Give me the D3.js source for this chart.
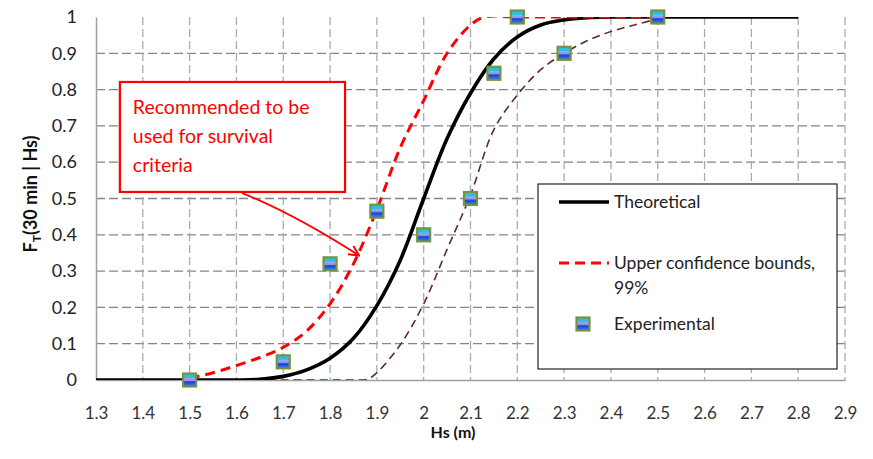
<!DOCTYPE html>
<html><head><meta charset="utf-8">
<script src="https://cdn.jsdelivr.net/npm/d3@7"></script>
<style>
html,body{margin:0;padding:0;background:#fff;}
svg{display:block;font-family:Lato,"Noto Sans",sans-serif;}
</style></head>
<body><svg id="chart" width="873" height="459"></svg>
<script>
// ---- data ----
const xTicks = [1.3,1.4,1.5,1.6,1.7,1.8,1.9,2.0,2.1,2.2,2.3,2.4,2.5,2.6,2.7,2.8,2.9];
const xTickLabels = ["1.3","1.4","1.5","1.6","1.7","1.8","1.9","2","2.1","2.2","2.3","2.4","2.5","2.6","2.7","2.8","2.9"];
const yTicks = [0,0.1,0.2,0.3,0.4,0.5,0.6,0.7,0.8,0.9,1];
const yTickLabels = ["0","0.1","0.2","0.3","0.4","0.5","0.6","0.7","0.8","0.9","1"];

const theoX = [1.3,1.5,1.6,1.65,1.7,1.75,1.8,1.85,1.9,1.95,2.0,2.05,2.1,2.15,2.2,2.25,2.3,2.35,2.4,2.5,2.8];
const theoY = [0,0,0,0.002,0.01,0.028,0.06,0.115,0.205,0.33,0.5,0.665,0.79,0.885,0.945,0.978,0.992,0.998,1,1,1];

const upperX = [1.5,1.55,1.6,1.65,1.7,1.75,1.8,1.85,1.9,1.95,2.0,2.05,2.1,2.13,2.2,2.5];
const upperY = [0.005,0.02,0.04,0.062,0.09,0.135,0.21,0.32,0.47,0.64,0.77,0.9,0.978,1,1,1];

const lowerX = [1.5,1.6,1.7,1.8,1.85,1.88,1.9,1.95,2.0,2.05,2.1,2.15,2.2,2.25,2.3,2.35,2.4,2.45,2.5];
const lowerY = [0,0,0,0,0,0.002,0.02,0.097,0.21,0.36,0.51,0.69,0.785,0.855,0.9,0.935,0.96,0.978,0.995];

const expX = [1.5,1.7,1.8,1.9,2.0,2.1,2.15,2.2,2.3,2.5];
const expY = [0,0.05,0.32,0.465,0.4,0.5,0.845,1.0,0.9,1.0];

const seriesNames = ["Theoretical","Upper confidence bounds,","99%","Experimental"];
const annotationLines = ["Recommended to be","used for survival","criteria"];

// ---- layout ----
const svg = d3.select("#chart");
const x = d3.scaleLinear().domain([1.3,2.9]).range([96,845]);
const y = d3.scaleLinear().domain([0,1]).range([380,17]);

const defs = svg.append("defs");
defs.append("clipPath").attr("id","plotclip").append("rect")
  .attr("x",x(1.3)).attr("y",y(1)).attr("width",x(2.9)-x(1.3)).attr("height",y(0)-y(1));
const grad = defs.append("linearGradient").attr("id","mk").attr("x1",0).attr("y1",0).attr("x2",0).attr("y2",1);
[[0,"#1cc6de"],[0.3,"#2fbce6"],[0.36,"#9ea6f0"],[0.55,"#8a92ea"],[0.6,"#3558e4"],[0.72,"#1e3ec6"],[0.8,"#2b6cf2"],[1,"#2360e6"]]
  .forEach(([o,c])=>grad.append("stop").attr("offset",o).attr("stop-color",c));
defs.append("marker").attr("id","arrowhead").attr("viewBox","0 0 12 12").attr("refX",11).attr("refY",6)
  .attr("markerWidth",12).attr("markerHeight",12).attr("markerUnits","userSpaceOnUse").attr("orient","auto")
  .append("path").attr("d","M1,1 L11,6 L1,11").attr("fill","none").attr("stroke","#ff0000").attr("stroke-width",2);

// gridlines
const grid = svg.append("g");
grid.selectAll("line.h").data(yTicks.filter(v=>v>0 && v<1)).join("line")
  .attr("x1",x(1.3)).attr("x2",x(2.9)).attr("y1",d=>y(d)).attr("y2",d=>y(d))
  .attr("stroke","#858585").attr("stroke-width",1.3).attr("stroke-dasharray","9,4");
grid.selectAll("line.v").data(xTicks.filter(v=>v>1.3)).join("line")
  .attr("x1",d=>x(d)).attr("x2",d=>x(d)).attr("y1",y(1)).attr("y2",y(0))
  .attr("stroke","#ababab").attr("stroke-width",1.3).attr("stroke-dasharray","8,4");

// axes
const xAxis = d3.axisBottom(x).tickValues(xTicks).tickFormat((d,i)=>xTickLabels[i]).tickSize(0).tickPadding(27);
const gx = svg.append("g").attr("transform",`translate(0,${y(0)})`).call(xAxis);
gx.select(".domain").attr("stroke","#a0a0a0").attr("stroke-width",1.5);
gx.selectAll("text").attr("font-size",17).attr("fill","#333").attr("font-family","Lato");

const yAxis = d3.axisLeft(y).tickValues(yTicks).tickFormat((d,i)=>yTickLabels[i]).tickSize(0).tickPadding(19);
const gy = svg.append("g").attr("transform",`translate(${x(1.3)},0)`).call(yAxis);
gy.select(".domain").attr("stroke","#a0a0a0").attr("stroke-width",1.5);
gy.selectAll("text").attr("font-size",18).attr("fill","#222").attr("font-family","Lato");

// axis titles
svg.append("text").attr("x",453).attr("y",438).attr("text-anchor","middle")
  .attr("font-size",16).attr("font-weight","bold").attr("fill","#111").text("Hs (m)");
const yt = svg.append("text").attr("transform",`translate(37,194) rotate(-90)`).attr("text-anchor","middle")
  .attr("font-size",18).attr("font-weight","bold").attr("fill","#111");
yt.append("tspan").text("F");
yt.append("tspan").attr("font-size",12).attr("dy",4).text("T");
yt.append("tspan").attr("dy",-4).text("(30 min | Hs)");

// curves
const line = d3.line().x(d=>x(d[0])).y(d=>y(d[1])).curve(d3.curveCatmullRom.alpha(0.5));
const curves = svg.append("g").attr("clip-path","url(#plotclip)");
curves.append("path").datum(lowerX.map((v,i)=>[v,lowerY[i]])).attr("d",line)
  .attr("fill","none").attr("stroke","#5e2b2b").attr("stroke-width",1.6).attr("stroke-dasharray","8,5");
curves.append("path").datum(theoX.map((v,i)=>[v,theoY[i]])).attr("d",line)
  .attr("fill","none").attr("stroke","#000").attr("stroke-width",3.6);
curves.append("path").datum(upperX.map((v,i)=>[v,upperY[i]])).attr("d",line)
  .attr("fill","none").attr("stroke","#ff0000").attr("stroke-width",3).attr("stroke-dasharray","10,6");

// markers
const drawMarker = (g,cx,cy)=>{
  g.append("rect").attr("x",cx-6.5).attr("y",cy-6.5).attr("width",13).attr("height",13)
    .attr("fill","url(#mk)").attr("stroke","#77933c").attr("stroke-width",2.2);
};
const mg = svg.append("g");
expX.forEach((v,i)=>drawMarker(mg,x(v),y(expY[i])));

// annotation box
const ann = svg.append("g");
ann.append("rect").attr("x",x(1.351)).attr("y",y(0.821)).attr("width",x(1.832)-x(1.351)).attr("height",y(0.518)-y(0.821))
  .attr("fill","#fff").attr("stroke","#ff0000").attr("stroke-width",2.2);
annotationLines.forEach((t,i)=>{
  ann.append("text").attr("x",x(1.351)+13).attr("y",y(0.821)+32+i*29).attr("font-size",19.5)
    .attr("fill","#ff0000").text(t);
});
ann.append("path").attr("d",`M${x(1.612)},${y(0.515)} Q${x(1.72)},${y(0.46)} ${x(1.862)},${y(0.343)}`)
  .attr("fill","none").attr("stroke","#ff0000").attr("stroke-width",1.8).attr("marker-end","url(#arrowhead)");

// legend
const lg = svg.append("g");
lg.append("rect").attr("x",538).attr("y",184).attr("width",299).attr("height",185)
  .attr("fill","#fff").attr("stroke","#222").attr("stroke-width",1.2);
lg.append("line").attr("x1",559).attr("x2",609).attr("y1",202).attr("y2",202).attr("stroke","#000").attr("stroke-width",3.6);
lg.append("line").attr("x1",559).attr("x2",609).attr("y1",263).attr("y2",263).attr("stroke","#ff0000").attr("stroke-width",3).attr("stroke-dasharray","10,6");
drawMarker(lg,583,324);
const lgText = [[seriesNames[0],202],[seriesNames[1],263],[seriesNames[2],288],[seriesNames[3],324]];
lgText.forEach(([t,yy])=>lg.append("text").attr("x",614).attr("y",yy).attr("dy","0.35em")
  .attr("font-size",17.5).attr("fill","#222").text(t));
</script>
</body></html>
